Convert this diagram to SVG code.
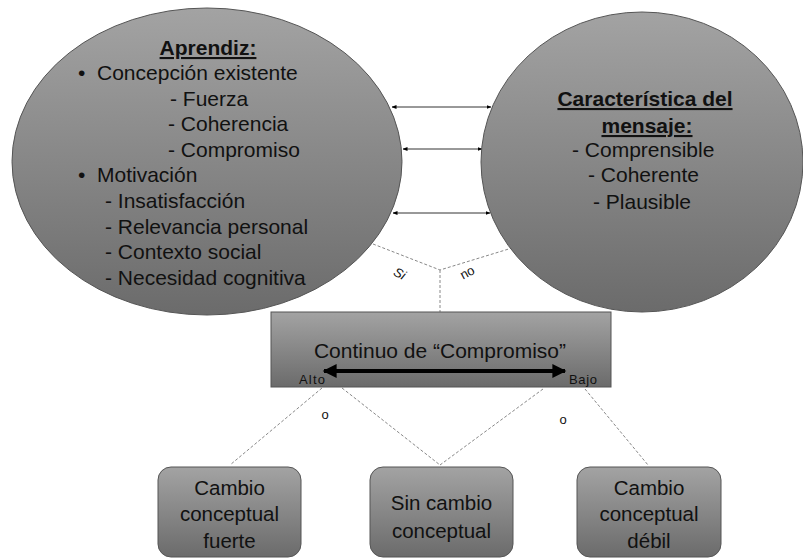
<svg xmlns="http://www.w3.org/2000/svg" width="803" height="559" viewBox="0 0 803 559">
<defs>
<linearGradient id="g" x1="0" y1="0" x2="0" y2="1">
<stop offset="0" stop-color="#a3a3a3"/>
<stop offset="1" stop-color="#6b6b6b"/>
</linearGradient>
<marker id="ah" viewBox="0 0 10 10" refX="9" refY="5" markerWidth="5" markerHeight="5" orient="auto-start-reverse" markerUnits="userSpaceOnUse">
<path d="M0,1 L10,5 L0,9 z" fill="#000"/>
</marker>
<marker id="bh" viewBox="0 0 10 10" refX="9" refY="5" markerWidth="4" markerHeight="3.5" orient="auto-start-reverse">
<path d="M0,0 L10,5 L0,10 z" fill="#000"/>
</marker>
</defs>
<style>
.shape{fill:url(#g);stroke:#555;stroke-width:1}
text{font-family:"Liberation Sans",Arial,sans-serif;fill:#111}
.t{font-size:21px}
.b{font-size:20.5px}
.h{font-size:21px;font-weight:bold;text-decoration:underline}
.dash{stroke:#888;stroke-width:1;stroke-dasharray:3,2;fill:none}
.arr{stroke:#333;stroke-width:1;fill:none}
.s{font-size:13px}
</style>
<rect width="803" height="559" fill="#fff"/>
<g id="connectors">
<line class="arr" x1="392" y1="107" x2="491" y2="107" marker-start="url(#ah)" marker-end="url(#ah)"/>
<line class="arr" x1="403" y1="149" x2="482" y2="149" marker-start="url(#ah)" marker-end="url(#ah)"/>
<line class="arr" x1="393" y1="213" x2="490" y2="213" marker-start="url(#ah)" marker-end="url(#ah)"/>
<polyline class="dash" points="373,244 440,270 512,248"/>
<line class="dash" x1="440" y1="270" x2="440" y2="312"/>
<line class="dash" x1="322" y1="388" x2="230" y2="465"/>
<line class="dash" x1="342" y1="388" x2="440" y2="465"/>
<line class="dash" x1="543" y1="389" x2="440" y2="465"/>
<line class="dash" x1="585" y1="389" x2="648" y2="465"/>
<text class="s" x="400" y="278" font-style="italic" transform="rotate(28 400 273)" text-anchor="middle">Si</text>
<text class="s" x="467" y="277" transform="rotate(-28 467 272)" text-anchor="middle">no</text>
<text class="s" x="325" y="419" text-anchor="middle">o</text>
<text class="s" x="563" y="424" text-anchor="middle">o</text>
</g>
<g id="aprendiz">
<ellipse class="shape" cx="207" cy="161.5" rx="195" ry="153.5"/>
<text class="h" x="208" y="55" text-anchor="middle" font-size="22">Aprendiz:</text>
<text class="t" x="78" y="80">•</text>
<text class="t" x="97" y="80">Concepción existente</text>
<text class="t" x="170" y="106">- Fuerza</text>
<text class="t" x="168" y="131">- Coherencia</text>
<text class="t" x="168" y="157">- Compromiso</text>
<text class="t" x="78" y="182">•</text>
<text class="t" x="97" y="182">Motivación</text>
<text class="t" x="105" y="208">- Insatisfacción</text>
<text class="t" x="105" y="234">- Relevancia personal</text>
<text class="t" x="105" y="259">- Contexto social</text>
<text class="t" x="105" y="285">- Necesidad cognitiva</text>
</g>
<g id="mensaje">
<ellipse class="shape" cx="642" cy="162" rx="161" ry="150"/>
<text class="h" x="645" y="106" text-anchor="middle">Característica del</text>
<text class="h" x="647" y="133" text-anchor="middle">mensaje:</text>
<text class="t" x="572" y="157">-  Comprensible</text>
<text class="t" x="588" y="182">-  Coherente</text>
<text class="t" x="593" y="209">-  Plausible</text>
</g>
<g id="continuo">
<rect class="shape" x="271" y="312" width="340" height="75"/>
<text x="440" y="358" text-anchor="middle" font-size="21">Continuo de “Compromiso”</text>
<line x1="324" y1="371" x2="565" y2="371" stroke="#000" stroke-width="4" marker-start="url(#bh)" marker-end="url(#bh)"/>
<text x="299" y="384" font-size="13" textLength="26">Alto</text>
<text x="569" y="384" font-size="13" textLength="28">Bajo</text>
</g>
<g id="fuerte">
<rect class="shape" x="158" y="467" width="143" height="90" rx="13"/>
<text class="b" x="229.5" y="495" text-anchor="middle">Cambio</text>
<text class="b" x="229.5" y="521" text-anchor="middle">conceptual</text>
<text class="b" x="229.5" y="548" text-anchor="middle">fuerte</text>
</g>
<g id="sincambio">
<rect class="shape" x="370" y="467" width="143" height="90" rx="13"/>
<text class="b" x="441.5" y="510" text-anchor="middle">Sin cambio</text>
<text class="b" x="441.5" y="538" text-anchor="middle">conceptual</text>
</g>
<g id="debil">
<rect class="shape" x="577" y="467" width="144" height="90" rx="13"/>
<text class="b" x="649" y="495" text-anchor="middle">Cambio</text>
<text class="b" x="649" y="521" text-anchor="middle">conceptual</text>
<text class="b" x="649" y="548" text-anchor="middle">débil</text>
</g>
</svg>
